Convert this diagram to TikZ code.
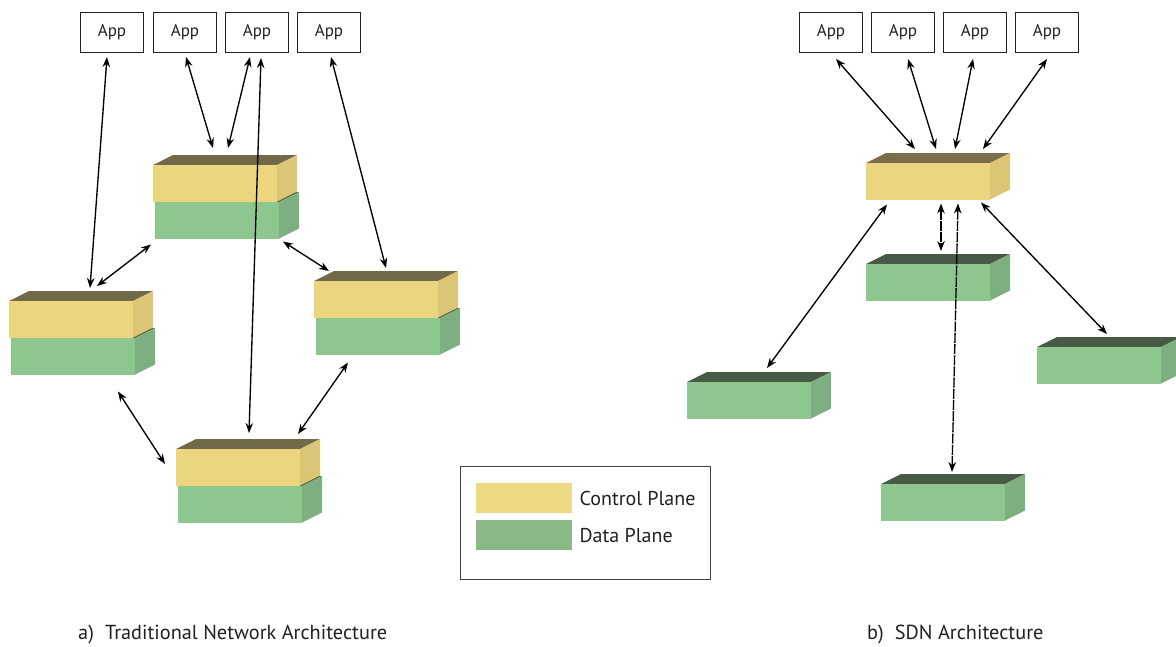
\documentclass[tikz,border=0pt]{standalone}
\usepackage{fontspec}
\setmainfont{PT Sans}
\usetikzlibrary{arrows.meta}

\definecolor{yfront}{HTML}{EBD57F}
\definecolor{yside}{HTML}{DCC574}
\definecolor{otop}{HTML}{716A48}
\definecolor{ctop}{HTML}{7A6E4A}
\definecolor{gfront}{HTML}{8DC68F}
\definecolor{gside}{HTML}{7EAF80}
\definecolor{gtopt}{HTML}{55603F}
\definecolor{gtops}{HTML}{475A45}
\definecolor{legy}{HTML}{EDD983}
\definecolor{legg}{HTML}{8AB986}
\definecolor{ink}{HTML}{231F20}

% One 3-D slab: front face is a named node, top and side faces are filled polygons.
% #1 name, #2 x, #3 y (top-left of front), #4 front, #5 side, #6 top colour
\newcommand\drawslab[6]{%
  \fill[#6] (#2,#3) -- ++(20,-10) -- ++(124,0) -- ++(-20,10) -- cycle;
  \fill[#5] (#2+124,#3) -- ++(20,-10) -- ++(0,36.5) -- ++(-20,10) -- cycle;
  \node[slabfront,fill=#4,anchor=north west] (#1) at (#2,#3) {};
}

\begin{document}
\begin{tikzpicture}[x=1pt,y=-1pt,
  slabfront/.style={inner sep=0pt,outer sep=0pt,minimum width=124pt,minimum height=36.5pt},
  app/.style={draw=ink,line width=1pt,inner sep=0pt,minimum width=63pt,minimum height=40pt,
    anchor=north west,font=\fontsize{17}{20}\selectfont,text=ink},
  link/.style={line width=1.35pt,{Stealth[length=10pt,width=7.5pt]}-{Stealth[length=10pt,width=7.5pt]}},
  dlink/.style={link,dash pattern=on 10pt off 1.2pt},
  legtext/.style={anchor=west,font=\fontsize{20}{24}\selectfont,text=ink,inner sep=0pt},
  caption/.style={anchor=west,font=\fontsize{20.3}{24}\selectfont,text=ink,inner sep=0pt}]
\useasboundingbox (0,0) rectangle (1176,646);

% ---- traditional network: four switches, each with control and data plane
\drawslab{td1}{155}{202}{gfront}{gside}{gtopt}
\drawslab{tc1}{153}{165}{yfront}{yside}{otop}
\drawslab{td2}{11}{338}{gfront}{gside}{gtopt}
\drawslab{tc2}{9}{301}{yfront}{yside}{otop}
\drawslab{td3}{316}{318}{gfront}{gside}{gtopt}
\drawslab{tc3}{314}{281}{yfront}{yside}{otop}
\drawslab{td4}{178}{486}{gfront}{gside}{gtopt}
\drawslab{tc4}{176}{449}{yfront}{yside}{otop}

% ---- SDN: one controller and four data-plane devices
\drawslab{sc}{866}{163}{yfront}{yside}{ctop}
\drawslab{sd2}{866}{264}{gfront}{gside}{gtops}
\drawslab{sd1}{687}{382}{gfront}{gside}{gtops}
\drawslab{sd4}{1037}{347}{gfront}{gside}{gtops}
\drawslab{sd3}{881}{484}{gfront}{gside}{gtops}

% ---- applications
\node[app] (aL1) at (80,12) {App};
\node[app] (aL2) at (153,12) {App};
\node[app] (aL3) at (225,12) {App};
\node[app] (aL4) at (297,12) {App};
\node[app] (aR1) at (799,12) {App};
\node[app] (aR2) at (871,12) {App};
\node[app] (aR3) at (943,12) {App};
\node[app] (aR4) at (1015,12) {App};

% ---- traditional links
\draw[link] ([shift={(27,4)}]aL1.south west) -- ([shift={(81,-13)}]tc2.north west);
\draw[link] ([shift={(33,4)}]aL2.south west) -- ([shift={(60,-17)}]tc1.north west);
\draw[link] ([shift={(25,4)}]aL3.south west) -- ([shift={(75,-17)}]tc1.north west);
\draw[link] ([shift={(36,5)}]aL3.south west) -- ([shift={(73,-16)}]tc4.north west);
\draw[link] ([shift={(34,4)}]aL4.south west) -- ([shift={(72,-13)}]tc3.north west);
\draw[link] ([shift={(-4,6)}]td1.south west) -- ([shift={(88,-15)}]tc2.north west);
\draw[link] ([shift={(4,3)}]td1.south east) -- ([shift={(15,-10)}]tc3.north west);
\draw[link] ([shift={(107,17)}]td2.south west) -- ([shift={(-11,15)}]tc4.north west);
\draw[link] ([shift={(32,8)}]td3.south west) -- ([shift={(122,-15)}]tc4.north west);

% ---- SDN links
\draw[link] ([shift={(37,6)}]aR1.south west) -- ([shift={(49,-14)}]sc.north west);
\draw[link] ([shift={(37,6)}]aR2.south west) -- ([shift={(70,-14)}]sc.north west);
\draw[link] ([shift={(30,6)}]aR3.south west) -- ([shift={(89,-14)}]sc.north west);
\draw[link] ([shift={(32,6)}]aR4.south west) -- ([shift={(117,-14)}]sc.north west);
\draw[link] ([shift={(21,5)}]sc.south west) -- ([shift={(80,-14)}]sd1.north west);
\draw[dlink] ([shift={(75,4)}]sc.south west) -- ([shift={(75,-13)}]sd2.north west);
\draw[dlink] ([shift={(92,4)}]sc.south west) -- ([shift={(71,-12)}]sd3.north west);
\draw[link] ([shift={(115,3)}]sc.south west) -- ([shift={(70,-13)}]sd4.north west);

% ---- legend
\node[draw=ink!85,line width=1.2pt,anchor=north west,inner sep=0pt,
  minimum width=250pt,minimum height=113pt] (legend) at (460,466) {};
\node[fill=legy,anchor=north west,inner sep=0pt,minimum width=96pt,minimum height=30pt]
  (swy) at (476,483) {};
\node[fill=legg,anchor=north west,inner sep=0pt,minimum width=96pt,minimum height=30pt]
  (swg) at (476,520) {};
\node[legtext] (lty) at ([xshift=7pt]swy.east) {Control Plane};
\node[legtext] (ltg) at ([xshift=7pt]swg.east) {Data Plane};

% ---- captions
\node[caption] (capa) at (78,634) {a)\hspace{0.55em}Traditional Network Architecture};
\node[caption] (capb) at (867,634) {b)\hspace{0.55em}SDN Architecture};
\end{tikzpicture}
\end{document}
